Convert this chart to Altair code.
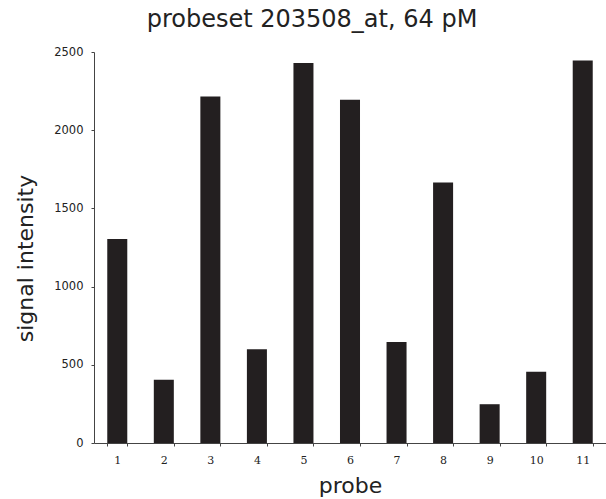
import altair as alt
import pandas as pd

probes = ["1", "2", "3", "4", "5", "6", "7", "8", "9", "10", "11"]
signal = [1305, 405, 2215, 600, 2430, 2195, 645, 1665, 248, 455, 2445]
y_ticks = [0, 500, 1000, 1500, 2000, 2500]

df = pd.DataFrame({"probe": probes, "signal": signal})

FONT = "DejaVu Sans"

chart = alt.Chart(df).mark_bar(color="#231f20").encode(
    x=alt.X(
        "probe:N",
        sort=probes,
        scale=alt.Scale(paddingInner=0.57, paddingOuter=0.285),
        axis=alt.Axis(
            title="probe",
            labelAngle=0,
            labelFontSize=11,
            labelFont="DejaVu Serif",
            labelColor="#222",
            labelPadding=8,
            tickBand="extent",
            tickSize=3,
            tickColor="#444",
            domainColor="#444",
            grid=False,
            titleFont=FONT,
            titleFontSize=22,
            titleFontWeight="normal",
            titleColor="#222",
            titlePadding=10,
        ),
    ),
    y=alt.Y(
        "signal:Q",
        scale=alt.Scale(domain=[0, 2500], nice=False),
        axis=alt.Axis(
            title="signal intensity",
            values=y_ticks,
            format="d",
            grid=False,
            labelFontSize=11.5,
            labelFont=FONT,
            labelColor="#222",
            labelPadding=8,
            tickSize=3,
            tickColor="#444",
            domainColor="#444",
            titleFont=FONT,
            titleFontSize=22,
            titleFontWeight="normal",
            titleColor="#222",
            titlePadding=16,
            titleY=206,
        ),
    ),
).properties(
    width=512,
    height=391,
    title=alt.TitleParams(
        "probeset 203508_at, 64 pM",
        font=FONT,
        fontSize=24,
        fontWeight="normal",
        color="#222",
        dx=-38,
        offset=14,
    ),
    autosize=alt.AutoSizeParams(type="none"),
    padding={"left": 94, "top": 52, "right": 0, "bottom": 56},
).configure(background="white").configure_view(stroke=None, strokeWidth=0).configure_axis(grid=False)

chart.save("out.html", embed_options={"renderer": "svg", "actions": False})
